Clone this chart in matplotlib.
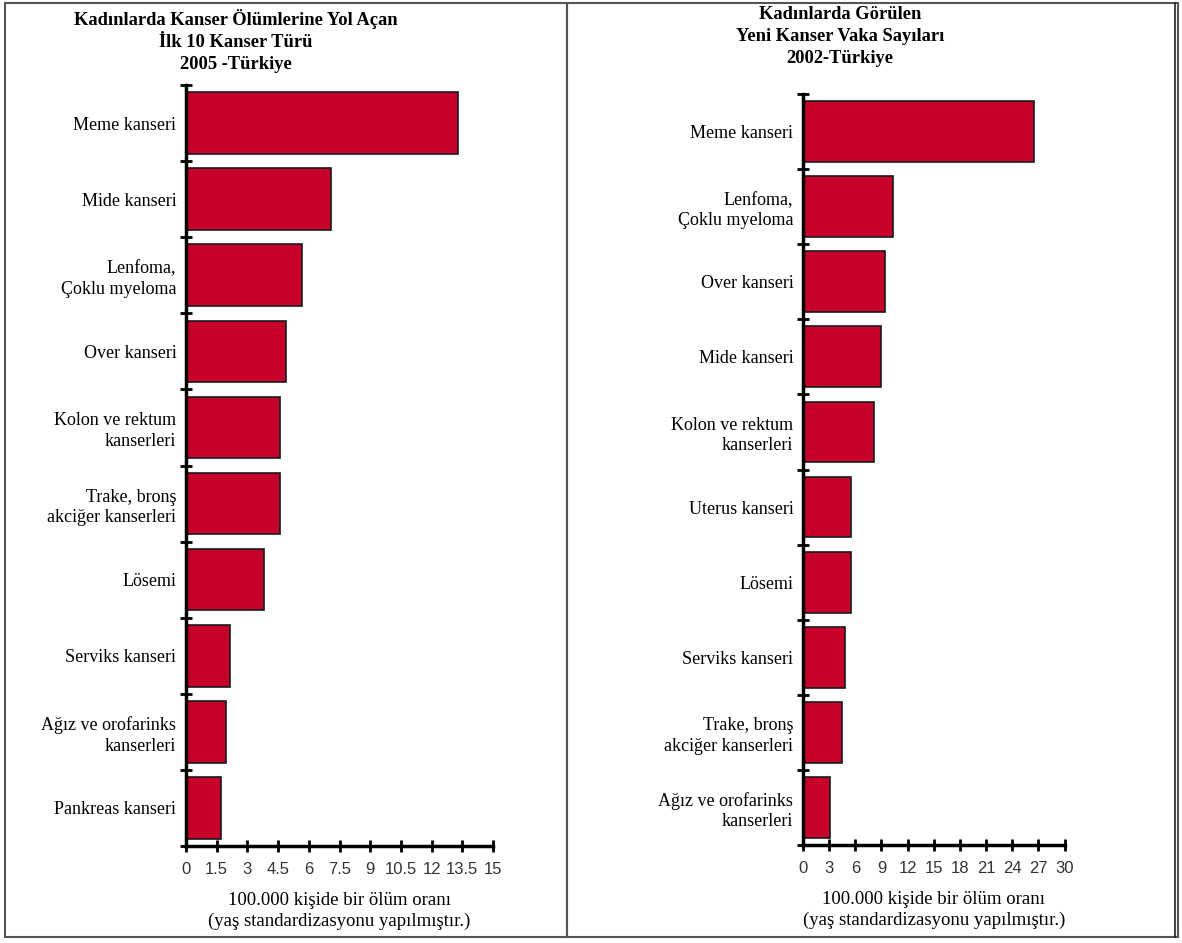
import matplotlib
matplotlib.use('Agg')
import matplotlib.pyplot as plt
from matplotlib.patches import Rectangle
import numpy as np

# left panel: deaths 2005
left_title = 'Kadınlarda Kanser Ölümlerine Yol Açan\nİlk 10 Kanser Türü\n2005 -Türkiye'
left_cats = ['Meme kanseri', 'Mide kanseri', 'Lenfoma,\nÇoklu myeloma', 'Over kanseri',
             'Kolon ve rektum\nkanserleri', 'Trake, bronş\nakciğer kanserleri', 'Lösemi',
             'Serviks kanseri', 'Ağız ve orofarinks\nkanserleri', 'Pankreas kanseri']
left_vals = [13.3, 7.07, 5.66, 4.88, 4.6, 4.6, 3.8, 2.15, 1.94, 1.7]
left_ticks = [0, 1.5, 3, 4.5, 6, 7.5, 9, 10.5, 12, 13.5, 15]
left_ticklabels = ['0', '1.5', '3', '4.5', '6', '7.5', '9', '10.5', '12', '13.5', '15']

# right panel: new cases 2002
right_title = 'Kadınlarda Görülen\nYeni Kanser Vaka Sayıları\n2002-Türkiye'
right_cats = ['Meme kanseri', 'Lenfoma,\nÇoklu myeloma', 'Over kanseri', 'Mide kanseri',
              'Kolon ve rektum\nkanserleri', 'Uterus kanseri', 'Lösemi', 'Serviks kanseri',
              'Trake, bronş\nakciğer kanserleri', 'Ağız ve orofarinks\nkanserleri']
right_vals = [26.5, 10.3, 9.44, 8.9, 8.1, 5.54, 5.54, 4.82, 4.47, 3.1]
right_ticks = [0, 3, 6, 9, 12, 15, 18, 21, 24, 27, 30]
right_ticklabels = ['0', '3', '6', '9', '12', '15', '18', '21', '24', '27', '30']

xlabel = '100.000 kişide bir ölüm oranı\n(yaş standardizasyonu yapılmıştır.)'

serif = 'Liberation Serif'
sans = 'Liberation Sans'
bar_color = '#C6002B'

W, H = 1182, 943
fig = plt.figure(figsize=(W / 100, H / 100), dpi=100)
fig.patch.set_facecolor('white')


def fx(px):
    return px / W


def fy(py):
    return 1 - py / H


def panel(rect, cats, vals, ticks, ticklabels):
    ax = fig.add_axes(rect)
    y = np.arange(len(cats))
    ax.barh(y, vals, height=0.81, color=bar_color, edgecolor='#1a1a1a', linewidth=1.2, zorder=2)
    ax.set_ylim(len(cats) - 0.5, -0.5)
    ax.set_xlim(ticks[0], ticks[-1])
    ax.set_yticks(y)
    ax.set_yticklabels(cats, fontfamily=serif, fontsize=13, multialignment='right',
                       linespacing=1.25)
    ax.set_yticks(np.arange(len(cats) + 1) - 0.5, minor=True)
    ax.tick_params(axis='y', which='major', length=0, pad=7)
    ax.tick_params(axis='y', which='minor', direction='inout', length=9, width=2, color='black')
    ax.set_xticks(ticks)
    ax.set_xticklabels(ticklabels, fontfamily=sans, fontsize=12, color='#333333')
    ax.tick_params(axis='x', direction='inout', length=9, width=2, pad=7)
    for s in ['top', 'right']:
        ax.spines[s].set_visible(False)
    for s in ['left', 'bottom']:
        ax.spines[s].set_linewidth(2.5)
        ax.spines[s].set_color('black')
    ax.set_xlabel(xlabel, fontfamily=serif, fontsize=13.5, labelpad=11, linespacing=1.25)
    return ax


panel([fx(186), fy(846), fx(493) - fx(186), fy(85) - fy(846)],
      left_cats, left_vals, left_ticks, left_ticklabels)
panel([fx(803), fy(845), fx(1064.5) - fx(803), fy(94) - fy(845)],
      right_cats, right_vals, right_ticks, right_ticklabels)

fig.text(fx(236), fy(9), left_title, ha='center', va='top', fontfamily=serif,
         fontweight='bold', fontsize=13.3, linespacing=1.38)
fig.text(fx(840), fy(6), right_title, ha='center', va='top', fontfamily=serif,
         fontweight='bold', fontsize=13.3, linespacing=1.38)

# panel frames
fig.add_artist(Rectangle((fx(5), fy(937)), fx(567) - fx(5), fy(3) - fy(937),
                         transform=fig.transFigure, fill=False, edgecolor='#555555', linewidth=1.5))
fig.add_artist(Rectangle((fx(567), fy(937)), fx(1178) - fx(567), fy(3) - fy(937),
                         transform=fig.transFigure, fill=False, edgecolor='#555555', linewidth=1.5))
fig.add_artist(plt.Line2D([fx(1175), fx(1175)], [fy(937), fy(3)],
                          transform=fig.transFigure, color='#222222', linewidth=1.2))

fig.savefig('out.png', dpi=100)
